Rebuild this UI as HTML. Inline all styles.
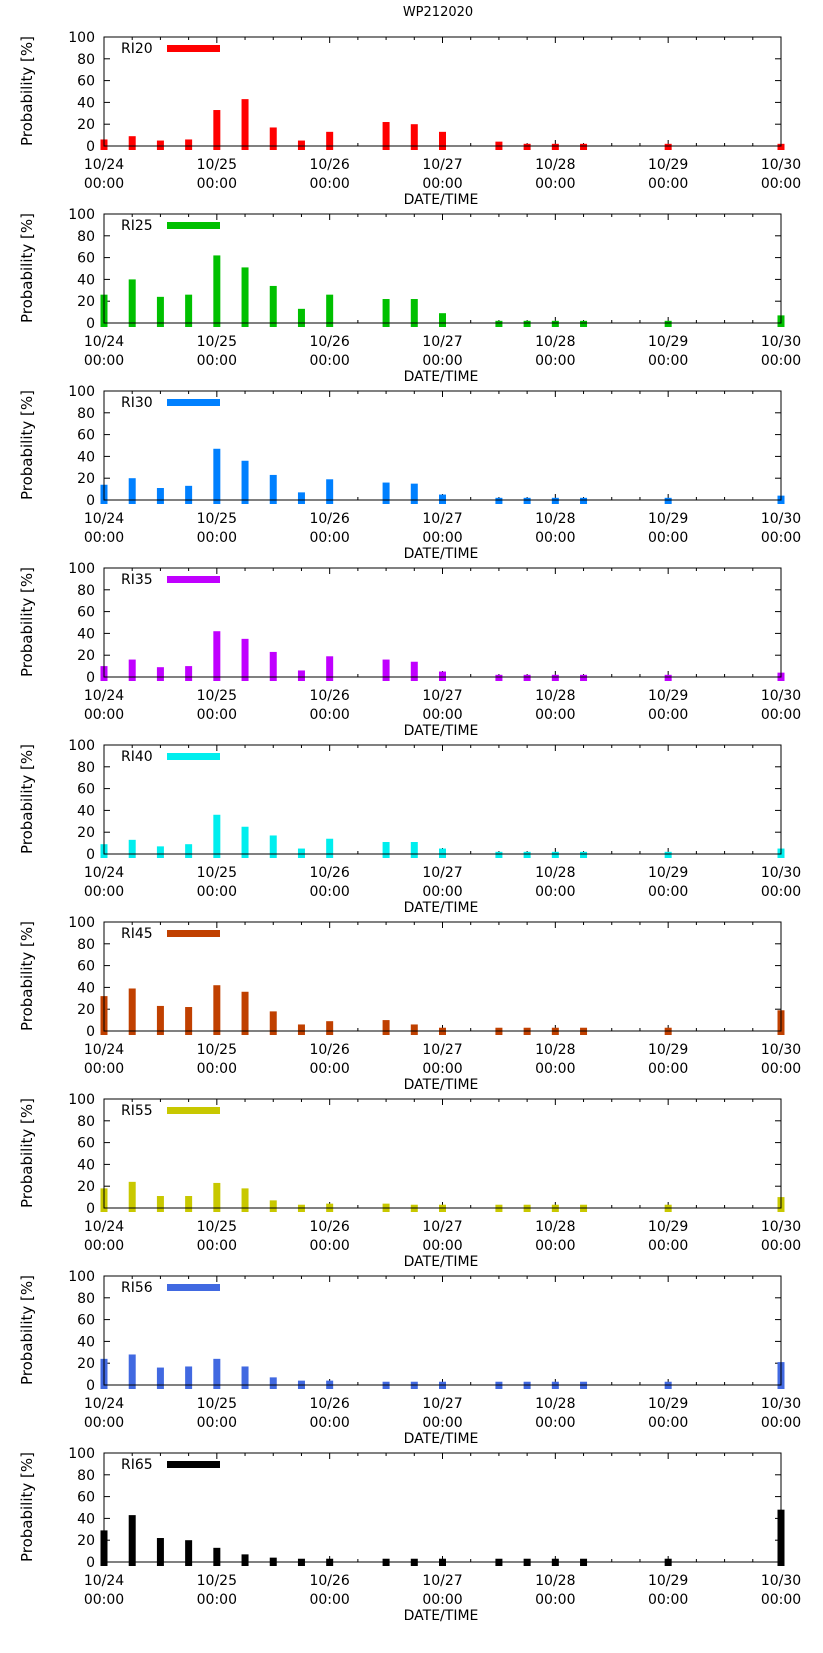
<!DOCTYPE html>
<html><head><meta charset="utf-8"><style>
html,body{margin:0;padding:0;background:#fff;}
svg{display:block;font-family:"DejaVu Sans","Liberation Sans",sans-serif;}
</style></head><body>
<svg id="chart" width="823" height="1653" viewBox="0 0 823 1653">
<text x="438" y="16" font-size="13" text-anchor="middle">WP212020</text>
</svg>
<script>
// Time slots (6-hour index from 10/24 00:00)
const slots = [0,1,2,3,4,5,6,7,8,10,11,12,14,15,16,17,20,24];
const dayLabels = ["10/24","10/25","10/26","10/27","10/28","10/29","10/30"];
const yTicks = [0,20,40,60,80,100];
const seriesNames = ["RI20","RI25","RI30","RI35","RI40","RI45","RI55","RI56","RI65"];
const seriesColors = ["#ff0000","#00c000","#0080ff","#c000ff","#00eeee","#c04000","#c8c800","#4169e1","#000000"];
const ri20 = [6,9,5,6,33,43,17,5,13,22,20,13,4,2,2,2,2,2];
const ri25 = [26,40,24,26,62,51,34,13,26,22,22,9,2,2,2,2,2,7];
const ri30 = [14,20,11,13,47,36,23,7,19,16,15,5,2,2,2,2,2,4];
const ri35 = [10,16,9,10,42,35,23,6,19,16,14,5,2,2,2,2,2,4];
const ri40 = [9,13,7,9,36,25,17,5,14,11,11,5,2,2,2,2,2,5];
const ri45 = [32,39,23,22,42,36,18,6,9,10,6,3,3,3,3,3,3,19];
const ri55 = [18,24,11,11,23,18,7,3,4,4,3,3,3,3,3,3,3,10];
const ri56 = [24,28,16,17,24,17,7,4,4,3,3,3,3,3,3,3,3,21];
const ri65 = [29,43,22,20,13,7,4,3,3,3,3,3,3,3,3,3,3,48];
const allSeries = [ri20,ri25,ri30,ri35,ri40,ri45,ri55,ri56,ri65];

const NS = "http://www.w3.org/2000/svg";
const svg = document.getElementById("chart");
const X0 = 104, X1 = 781, SLOTS = 24;
function xs(i){ return X0 + i*(X1-X0)/SLOTS; }
function mk(tag, attrs, parent){
  const e = document.createElementNS(NS, tag);
  for (const k in attrs) e.setAttribute(k, attrs[k]);
  (parent||svg).appendChild(e);
  return e;
}
allSeries.forEach((vals, p) => {
  const T = 37 + p*177;
  const Z = T + 109;
  const ys = v => Z - v*1.09;
  const g = mk("g", {});
  
  
  for (let i=0;i<=SLOTS;i++){
    const x = xs(i), len = (i%4===0)?6:3;
    mk("line",{x1:x,y1:T,x2:x,y2:T+len,stroke:"#000","stroke-width":1},g);
    mk("line",{x1:x,y1:Z,x2:x,y2:Z-len,stroke:"#000","stroke-width":1},g);
  }
  yTicks.forEach(v => {
    const y = ys(v);
    mk("line",{x1:X0,y1:y,x2:X0+6,y2:y,stroke:"#000"},g);
    mk("line",{x1:X1,y1:y,x2:X1-6,y2:y,stroke:"#000"},g);
    const t = mk("text",{x:X0-9,y:y+5,"font-size":14,"text-anchor":"end"},g);
    t.textContent = v;
    
    
  });
  dayLabels.forEach((d, i) => {
    const x = xs(i*4);
    const t1 = mk("text",{x:x,y:Z+23,"font-size":14,"text-anchor":"middle"},g);
    t1.textContent = d;
    
    
    const t2 = mk("text",{x:x,y:Z+42,"font-size":14,"text-anchor":"middle"},g);
    t2.textContent = "00:00";
    
    
  });
  vals.forEach((v, k) => {
    const x = xs(slots[k]);
    const r = mk("rect",{x:x-3.5,y:ys(v),width:7,height:(Z+4)-ys(v),fill:seriesColors[p]},g);
    
    
  });
  const fr = mk("rect",{x:X0,y:T,width:X1-X0,height:109,fill:"none",stroke:"#000","stroke-width":1},g);
  
  
  const lt = mk("text",{x:121,y:T+16,"font-size":14},g);
  lt.textContent = seriesNames[p];
  
  
  const ls = mk("rect",{x:167,y:T+8,width:53,height:7,fill:seriesColors[p]},g);
  
  
  const yt = mk("text",{x:0,y:0,"font-size":15,"text-anchor":"middle",transform:"translate(32,"+(T+54)+") rotate(-90)"},g);
  yt.textContent = "Probability [%]";
  
  
  const xt = mk("text",{x:441,y:T+167,"font-size":14,"text-anchor":"middle"},g);
  xt.textContent = "DATE/TIME";
  
  
});
</script>
</body></html>
